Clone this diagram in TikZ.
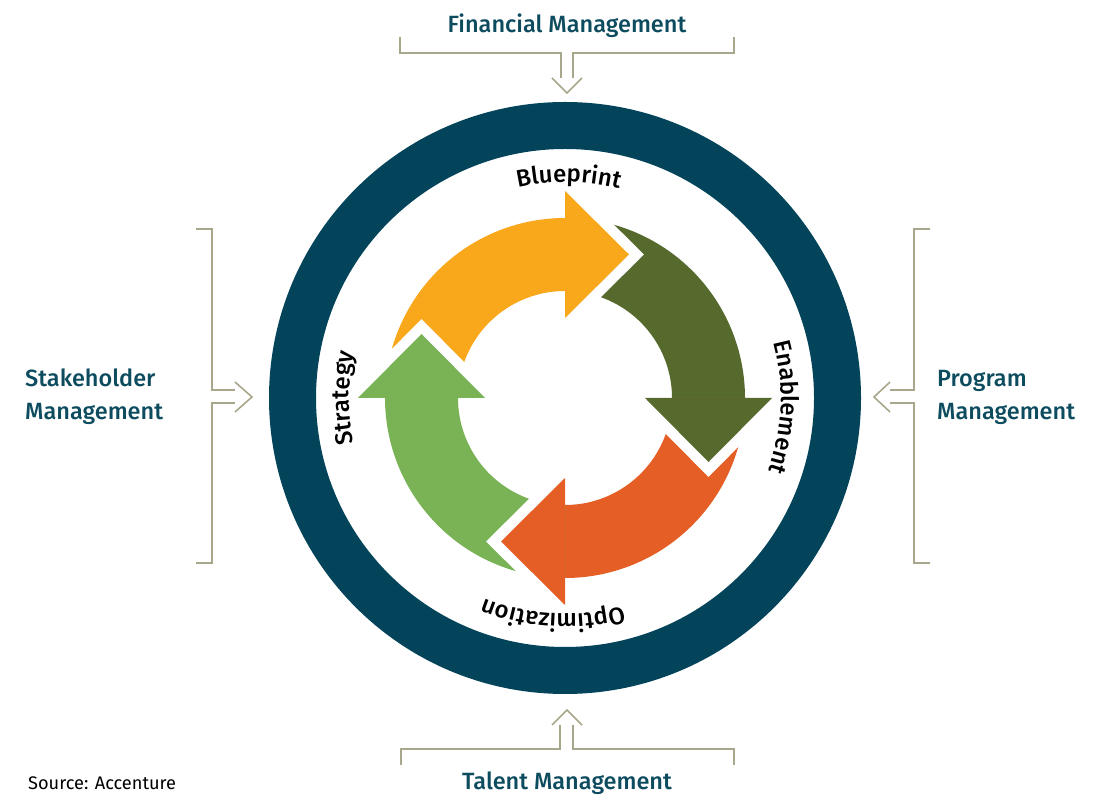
\documentclass[tikz,border=0pt]{standalone}
\usepackage{fontspec}
\setmainfont{Fira Sans Medium}
\newfontfamily\sourcefont{Fira Sans}
\usetikzlibrary{calc,decorations.text}

\definecolor{ringteal}{HTML}{03445A}
\definecolor{labelteal}{HTML}{0D4B5E}
\definecolor{bracketgrey}{HTML}{A9A78B}
\definecolor{blueprintcol}{HTML}{F9A81B}
\definecolor{enablecol}{HTML}{566A2E}
\definecolor{optimcol}{HTML}{E45E25}
\definecolor{strategycol}{HTML}{79B356}

\newcommand\arcfont{\fontsize{24}{30}\selectfont}

\begin{document}
\begin{tikzpicture}[x=1pt,y=1pt,
  bracket/.style={draw=bracketgrey, line width=1.6pt, line cap=butt, line join=miter},
  mgmt/.style={text=labelteal, font=\fontsize{23.5}{30}\selectfont, inner sep=0pt},
  arclabel/.style={decorate, decoration={text along path, text align=center,
      text={|\arcfont|#1}}}]
\useasboundingbox (0,0) rectangle (1094,795);
\coordinate (C) at (565,397);

% outer ring
\draw[ringteal, line width=47pt] (C) circle[radius=272.5pt];

% cycle arrows: bands first (each runs clockwise from the previous head to its own head)
\foreach \a/\c in {90/blueprintcol, 0/enablecol, 270/optimcol, 180/strategycol}{
  \fill[\c] ($(C)+(\a+90:180pt)$) arc[start angle=\a+90, end angle=\a-1, radius=180pt]
    -- ($(C)+(\a-1:107pt)$) arc[start angle=\a-1, end angle=\a+90, radius=107pt] -- cycle;
}
% arrow heads with a white gap cut into the following tail
\foreach \a/\c in {90/blueprintcol, 0/enablecol, 270/optimcol, 180/strategycol}{
  \coordinate (tip) at ($(C)+(\a:143.5pt)+(\a-90:64pt)$);
  \draw[white, line width=21pt, line join=miter, line cap=butt]
    ($(C)+(\a:80pt)$) -- (tip) -- ($(C)+(\a:207pt)$);
  \fill[\c] ($(C)+(\a:80pt)$) -- (tip) -- ($(C)+(\a:207pt)$) -- cycle;
}

% stage names along the circle
\path[arclabel=Blueprint] ($(C)+(129:216pt)$) arc[start angle=129, end angle=49, radius=216pt];
\path[arclabel=Enablement] ($(C)+(37.6:216pt)$) arc[start angle=37.6, end angle=-42.4, radius=216pt];
\path[arclabel=Optimization] ($(C)+(306.8:216pt)$) arc[start angle=306.8, end angle=226.8, radius=216pt];
\path[arclabel=Strategy] ($(C)+(220:216pt)$) arc[start angle=220, end angle=140, radius=216pt];

% management labels
\node[mgmt, anchor=base] (fin) at (567,762) {Financial Management};
\node[mgmt, anchor=base] (tal) at (567,6) {Talent Management};
\node[mgmt, anchor=base west] (stk1) at (25,408) {Stakeholder};
\node[mgmt, anchor=base west] (stk2) at (25,375) {Management};
\node[mgmt, anchor=base west] (prg1) at (937,408) {Program};
\node[mgmt, anchor=base west] (prg2) at (937,375) {Management};
\node[anchor=base west, inner sep=0pt, font=\sourcefont\fontsize{18.2}{20}\selectfont] (src) at (28,6) {Source: Accenture};

% top bracket
\draw[bracket] (400,758) -- (400,742) -- (561,742) -- (561,717);
\draw[bracket] (734,758) -- (734,742) -- (573,742) -- (573,717);
\draw[bracket] (552,717) -- (567,702) -- (582,717);
% bottom bracket
\draw[bracket] (401,30) -- (401,46) -- (560,46) -- (560,70);
\draw[bracket] (734,30) -- (734,46) -- (573,46) -- (573,70);
\draw[bracket] (552,70) -- (567,85) -- (582,70);
% left bracket
\draw[bracket] (196,566) -- (212,566) -- (212,405) -- (235,405);
\draw[bracket] (196,232) -- (212,232) -- (212,392) -- (235,392);
\draw[bracket] (235,413) -- (252,398) -- (235,383);
% right bracket
\draw[bracket] (930,566) -- (914,566) -- (914,405) -- (890,405);
\draw[bracket] (930,232) -- (914,232) -- (914,392) -- (890,392);
\draw[bracket] (890,413) -- (874,398) -- (890,383);
\end{tikzpicture}
\end{document}
